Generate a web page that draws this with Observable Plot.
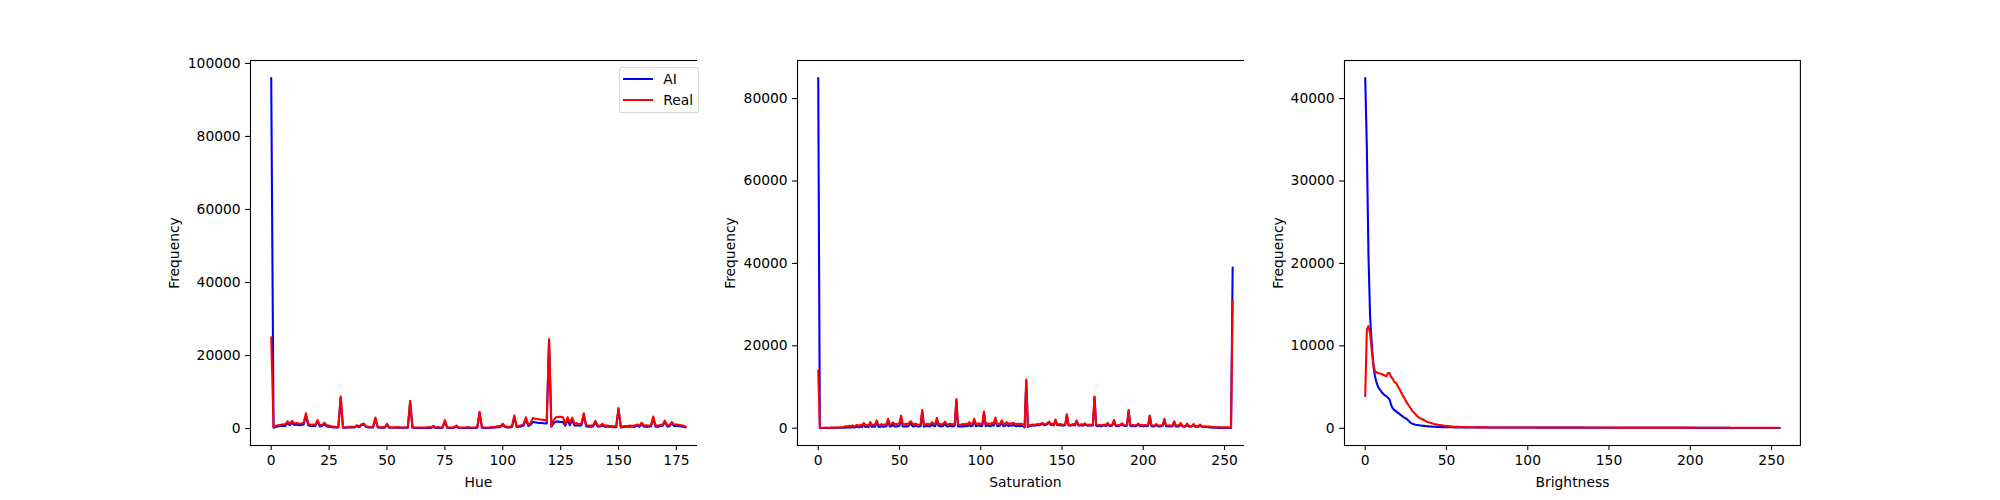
<!DOCTYPE html>
<html><head><meta charset="utf-8">
<script src="https://cdn.jsdelivr.net/npm/d3@7"></script>
<script src="https://cdn.jsdelivr.net/npm/@observablehq/plot@0.6"></script>
<style>
html,body{margin:0;padding:0;background:#fff;}
#fig{position:relative;width:2000px;height:500px;background:#fff;font-family:"DejaVu Sans";}
</style></head><body><div id="fig"></div>
<script>
const seriesNames = ["AI", "Real"];
const seriesColors = ["#0000ff", "#ff0000"];
const xLabels = ["Hue", "Saturation", "Brightness"];
const yLabel = "Frequency";
const hueTicksX = [0, 25, 50, 75, 100, 125, 150, 175];
const satTicksX = [0, 50, 100, 150, 200, 250];
const briTicksX = [0, 50, 100, 150, 200, 250];
const hueTicksY = [0, 20000, 40000, 60000, 80000, 100000];
const satTicksY = [0, 20000, 40000, 60000, 80000];
const briTicksY = [0, 10000, 20000, 30000, 40000];

const hueAI = [
96000,200,400,600,700,800,700,1500,900,1600,
1000,1100,900,1000,1100,3600,900,700,700,700,
1800,600,700,1200,600,500,400,300,300,300,
8400,200,200,300,300,300,300,700,400,900,
1100,400,300,300,300,2600,300,200,200,200,
1000,200,200,200,200,200,200,200,200,200,
7200,200,150,150,150,150,150,150,200,150,
500,150,200,150,200,2000,200,150,150,200,
600,150,150,150,150,200,150,150,150,200,
4300,200,150,150,150,200,200,300,400,400,
1000,400,300,300,400,3200,400,500,600,800,
2600,700,1000,1800,1700,1600,1500,1500,1400,1400,
24000,500,1500,1900,1900,1800,1800,800,2400,900,
2300,800,900,800,900,3700,600,500,500,600,
1700,600,500,900,500,500,500,500,400,400,
5300,300,400,500,500,500,500,500,800,500,
1200,500,600,500,600,2800,500,500,700,700,
1800,600,600,1400,700,700,700,600,500,300];
const hueReal = [
25000,400,700,900,1000,1200,1100,2000,1300,2100,
1400,1500,1300,1400,1600,4200,1300,1000,1100,1000,
2300,900,1000,1600,900,800,600,500,400,400,
8800,400,300,400,500,500,400,900,600,1200,
1400,600,500,400,500,3000,500,300,400,400,
1300,400,300,300,400,400,300,300,300,400,
7600,400,300,300,300,300,300,300,400,300,
700,300,400,300,400,2300,400,300,300,400,
800,300,300,300,300,400,300,300,300,400,
4600,400,300,300,300,400,400,500,700,600,
1300,600,500,500,700,3600,600,700,900,1200,
3100,1000,1500,2900,2700,2600,2500,2400,2300,2200,
24500,700,2300,3100,3200,3200,3100,1200,3100,1600,
3000,1300,1500,1200,1400,4200,1000,800,800,900,
2100,900,700,1300,800,800,700,700,600,700,
5600,400,600,700,700,800,700,800,1100,800,
1600,800,900,800,900,3300,800,800,1000,1000,
2200,900,900,1800,1100,1100,1000,900,800,500];

const satAI = [
85000,50,50,60,50,70,60,60,80,70,
80,70,90,100,90,100,120,200,150,250,
150,300,150,250,400,200,450,250,900,300,
400,250,1100,300,450,350,1500,350,300,500,
350,400,500,1900,400,450,900,400,450,500,
600,2700,450,400,500,450,700,1300,500,450,
600,450,400,500,4000,400,450,600,500,450,
900,600,500,2000,600,500,450,600,1100,500,
450,600,500,450,600,6700,450,400,450,500,
450,600,500,900,500,600,1800,500,600,700,
500,600,3700,500,700,600,500,800,600,2100,
600,500,700,1400,500,600,900,500,700,600,
800,600,500,600,500,600,500,200,11500,300,
500,600,700,600,700,800,700,900,1100,700,
800,1000,1400,800,900,700,1900,800,700,800,
700,600,800,3200,700,600,700,800,700,1700,
700,600,800,600,1000,700,600,700,600,700,
7500,600,500,600,500,600,700,500,1100,600,
500,700,1800,600,500,600,700,1000,600,500,
600,4200,600,500,600,500,600,900,500,600,
500,600,500,600,2900,500,400,500,800,500,
400,500,600,2100,500,400,500,400,500,1500,
400,500,400,1100,400,350,400,900,400,350,
400,800,350,400,350,700,350,300,350,300,
250,200,150,100,100,100,80,80,80,60,
60,60,60,60,60,39000];
const satReal = [
14000,100,100,120,100,150,130,120,150,140,
160,150,170,200,180,300,350,500,400,600,
450,700,400,600,800,500,900,600,1300,700,
800,600,1500,700,900,800,1900,800,700,1000,
800,900,1000,2300,900,1000,1400,900,1000,1100,
1200,3100,1000,900,1100,1000,1300,1700,1100,1000,
1100,900,800,1000,4400,800,900,1100,1000,900,
1500,1100,1000,2500,1100,1000,900,1100,1600,1000,
900,1100,1000,900,1100,7100,900,800,900,1000,
900,1100,1000,1500,1000,1100,2300,1000,1100,1200,
1000,1100,4100,1000,1200,1100,1000,1300,1100,2600,
1100,1000,1200,1900,1000,1100,1500,1000,1200,1100,
1300,1100,1000,1100,1000,1100,900,300,11800,400,
700,800,900,800,900,1000,900,1100,1300,900,
1000,1200,1600,1000,1100,900,2100,1000,900,1000,
900,800,1000,3400,900,800,900,1000,900,1900,
900,800,1000,800,1200,900,800,900,800,900,
7700,800,700,800,700,800,900,700,1300,800,
700,900,2000,800,700,800,900,1200,800,700,
800,4400,800,700,800,700,800,1100,700,800,
700,800,700,800,3100,700,600,700,1000,700,
600,700,800,2300,700,600,700,600,700,1700,
600,700,600,1300,600,500,600,1100,600,500,
600,1000,500,600,500,900,500,400,500,400,
400,400,350,300,300,300,250,250,250,200,
200,200,200,200,200,31000];

const briAI = [
42500,34000,21000,13500,10300,7600,6300,5500,5000,4700,
4400,4200,4000,3900,3700,3500,2800,2400,2200,2050,
1900,1750,1600,1450,1300,1200,1050,850,650,550,
480,430,400,370,340,310,290,270,250,230,
210,200,190,180,170,160,150,145,140,135,
130,127,124,121,118,115,113,111,109,107,
105,104,103,102,101,100,100,99,99,98,
98,97,97,96,96,95,95,95,94,94,
94,93,93,93,92,92,92,91,91,91,
90,90,90,89,89,89,88,88,88,87,
87,87,86,86,86,85,85,85,84,84,
84,83,83,83,82,82,82,81,81,81,
80,80,80,79,79,79,78,78,78,77,
77,77,76,76,76,75,75,75,74,74,
74,73,73,73,72,72,72,71,71,71,
70,70,70,69,69,69,68,68,68,67,
67,67,66,66,66,65,65,65,64,64,
64,63,63,63,62,62,62,61,61,61,
60,60,60,59,59,59,58,58,58,57,
57,57,56,56,56,55,55,55,54,54,
54,53,53,53,52,52,52,51,51,51,
50,50,50,49,49,49,48,48,48,47,
47,47,46,46,46,45,45,45,44,44,
44,43,43,43,42,42,42,41,41,41,
40,40,40,39,39,39,38,38,38,37,
37,37,36,36,36,35];
const briReal = [
3900,12000,12400,11500,9500,7800,6900,6800,6700,6650,
6600,6500,6400,6300,6700,6700,6200,6000,5600,5500,
5100,4800,4400,4000,3700,3300,3000,2700,2400,2100,
1900,1700,1500,1300,1200,1100,1000,900,800,720,
660,600,550,500,460,420,390,360,330,300,
280,260,240,220,200,190,180,170,160,150,
150,145,140,135,130,125,120,118,116,114,
112,110,109,108,107,106,105,104,103,102,
101,100,100,99,100,99,99,98,99,98,
98,98,97,98,97,97,97,96,97,96,
96,96,95,96,95,95,95,94,95,94,
94,94,93,94,93,93,93,92,93,92,
92,92,91,92,91,91,91,90,91,90,
90,90,89,90,89,89,89,88,89,88,
88,88,87,88,87,87,87,86,87,86,
86,86,85,86,85,85,85,84,85,84,
84,84,83,84,83,83,83,82,83,82,
82,82,81,82,81,81,81,80,81,80,
80,80,79,80,79,79,79,78,79,78,
78,78,77,78,77,77,77,76,77,76,
76,76,75,76,75,75,75,74,75,74,
74,74,73,74,73,73,73,72,73,72,
72,72,71,72,71,71,71,70,71,70,
70,70,69,70,69,69,69,68,69,68,
68,68,67,68,67,67,67,66,67,66,
66,66,65,66,65,64];

const fig = document.getElementById("fig");
const FS = 13.89;

function panel(ai, real, xLabel, xTicks, yTicks, left, yLabelOffset) {
  const n = ai.length - 1;
  const rows = [
    ...ai.map((v, i) => ({bin: i, value: v, series: seriesNames[0]})),
    ...real.map((v, i) => ({bin: i, value: v, series: seriesNames[1]}))
  ];
  const lo = d3.min(rows, d => d.value), hi = d3.max(rows, d => d.value);
  const pad = 0.05 * (hi - lo);
  const svg = Plot.plot({
    width: 600, height: 500,
    marginLeft: 100, marginRight: 44.12, marginTop: 60, marginBottom: 55,
    style: {fontFamily: "DejaVu Sans", fontSize: FS + "px", background: "white", color: "black", overflow: "visible"},
    x: {domain: [-0.05 * n, n * 1.05]},
    y: {domain: [lo - pad, hi + pad]},
    color: {domain: seriesNames, range: seriesColors},
    marks: [
      Plot.line(rows, {x: "bin", y: "value", stroke: "series", z: "series", strokeWidth: 2.08}),
      Plot.frame({stroke: "black", strokeWidth: 1.1}),
      Plot.axisX({ticks: xTicks, tickSize: 4.9, tickPadding: 4.9, tickFormat: d3.format("d"), strokeWidth: 1.1,
        label: xLabel, labelAnchor: "center", labelArrow: "none", labelOffset: 41}),
      Plot.axisY({ticks: yTicks, tickSize: 4.9, tickPadding: 4.9, tickFormat: d3.format("d"), strokeWidth: 1.1,
        label: yLabel, labelAnchor: "center", labelArrow: "none", labelOffset: yLabelOffset})
    ]
  });
  svg.style.position = "absolute";
  svg.style.left = left + "px";
  svg.style.top = "0px";
  fig.appendChild(svg);
}

panel(hueAI, hueReal, xLabels[0], hueTicksX, hueTicksY, 150, 81);
panel(satAI, satReal, xLabels[1], satTicksX, satTicksY, 697.06, 72);
panel(briAI, briReal, xLabels[2], briTicksX, briTicksY, 1244.12, 71.5);

// legend (upper right of first panel)
const leg = document.createElement("div");
leg.style.cssText = "position:absolute;left:619px;top:67px;width:80px;height:46px;box-sizing:border-box;border:1px solid rgba(204,204,204,0.8);border-radius:3px;background:rgba(255,255,255,0.8);font-family:'DejaVu Sans';font-size:" + FS + "px;color:#000;";
seriesNames.forEach((name, i) => {
  const cy = 11 + i * 20.7;
  const sw = document.createElement("div");
  sw.style.cssText = `position:absolute;left:3.3px;top:${cy - 1}px;width:29.4px;height:2.08px;background:${seriesColors[i]};`;
  const tx = document.createElement("div");
  tx.textContent = name;
  tx.style.cssText = `position:absolute;left:43.3px;top:${cy - 8}px;line-height:16px;height:16px;white-space:nowrap;`;
  leg.appendChild(sw);
  leg.appendChild(tx);
});
fig.appendChild(leg);
</script>
</body></html>
